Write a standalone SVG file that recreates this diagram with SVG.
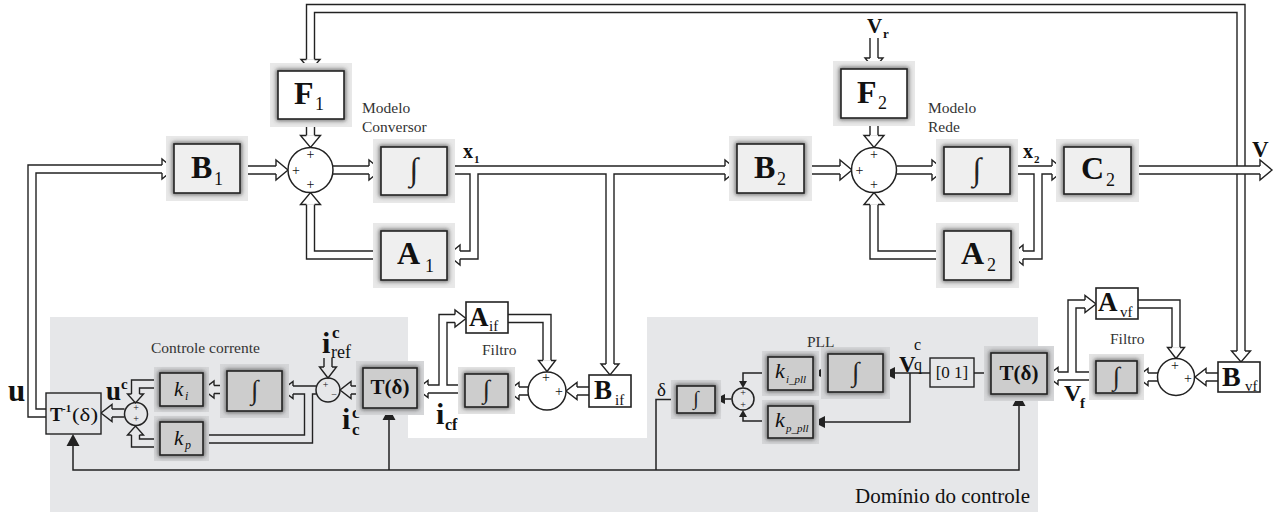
<svg xmlns="http://www.w3.org/2000/svg" width="1278" height="512" viewBox="0 0 1278 512">
<defs>
<filter id="blur" x="-30%" y="-30%" width="160%" height="160%"><feGaussianBlur stdDeviation="2"/></filter>
<style>
text{font-family:"Liberation Serif","Times New Roman",serif;fill:#111}
.b{font-weight:bold}
.it{font-style:italic}
.sm{fill:#333;font-size:15.5px}
.pl{font-size:14px;text-anchor:middle}
.ps{font-size:10px;text-anchor:middle}
.int{text-anchor:middle;fill:#222}
.panel{fill:#e6e7e9}
.halo{fill:#e8e8e8}
.haloD{fill:#d5d6d8}
.haloW{fill:#e3e3e3}
.shd{fill:none;stroke:#444;stroke-width:3;filter:url(#blur)}
.bx{fill:#efefef;stroke:#222;stroke-width:1.6}
.bxW{fill:#fff;stroke:#222;stroke-width:1.6}
.bxG{fill:#cdcdcd;stroke:#222;stroke-width:1.6}
.bxP{fill:#e6e7e9;stroke:#222;stroke-width:1.4}
.sum{fill:#fff;stroke:#222;stroke-width:1.5}
.sumP{fill:none;stroke:#222;stroke-width:1.5}
.co{fill:none;stroke:#222;stroke-width:9.4;stroke-linejoin:miter}
.ci{fill:none;stroke:#fff;stroke-width:6.6;stroke-linejoin:miter}
.cip{fill:none;stroke:#e6e7e9;stroke-width:6.6;stroke-linejoin:miter}
.hd{fill:#fff;stroke:#222;stroke-width:1.4;stroke-linejoin:miter}
.hdp{fill:#e6e7e9;stroke:#222;stroke-width:1.4;stroke-linejoin:miter}
.sl{fill:none;stroke:#222;stroke-width:1.5}
.sh{fill:#222}
</style>
</defs>
<rect width="1278" height="512" fill="#fff"/>
<path id="panel" class="panel" d="M50,317 H408 V438 H647 V317 H1038 V512 H50 Z"/>

<g id="connectors">
 <g id="top-double">
  <path class="co" d="M310.5,59.5 V8.5 H1241 V351 M46,413 H32 V169 H162 M240,170 H276 M310.5,119 V135.5 M333,170 H369 M381,255 H310.5 V204.5 M447,170 H725 M474,170 V255 H460 M610,170 V364 M804,170 H840 M874,38 V58 M874,118 V135.5 M896.5,170 H932 M944,255 H874 V204.5 M1010,170 H1052 M1038,170 V255 H1023"/>
  <path class="ci" d="M310.5,59.5 V8.5 H1241 V351 M46,413 H32 V169 H162 M240,170 H276 M310.5,119 V135.5 M333,170 H369 M381,255 H310.5 V204.5 M447,170 H725 M474,170 V255 H460 M610,170 V364 M804,170 H840 M874,38 V58 M874,118 V135.5 M896.5,170 H932 M944,255 H874 V204.5 M1010,170 H1052 M1038,170 V255 H1023"/>
  <path class="co" d="M1131,170 H1260"/>
  <path class="ci" d="M1131,170 H1260"/>
  <path class="hd" d="M306.5,59.5 H301 L310.5,70.5 L320,59.5 H314.5"/>
  <path class="hd" d="M1237,351 H1231.5 L1241,362 L1250.5,351 H1245"/>
  <path class="hd" d="M162,165 V159 L174,169 L162,179 V173"/>
  <path class="hd" d="M276,166 V160 L288,170 L276,180 V174"/>
  <path class="hd" d="M306.5,135.5 H300.5 L310.5,147.5 L320.5,135.5 H314.5"/>
  <path class="hd" d="M369,166 V160 L381,170 L369,180 V174"/>
  <path class="hd" d="M306.5,204.5 H300.5 L310.5,192.5 L320.5,204.5 H314.5"/>
  <path class="hd" d="M725,166 V160 L737,170 L725,180 V174"/>
  <path class="hd" d="M460,251 V245 L448,255 L460,265 V259"/>
  <path class="hd" d="M606,364 H601 L610,375 L619,364 H614"/>
  <path class="hd" d="M840,166 V160 L852,170 L840,180 V174"/>
  <path class="hd" d="M870,58 H865 L874,69 L883,58 H878"/>
  <path class="hd" d="M870,135.5 H864 L874,147.5 L884,135.5 H878"/>
  <path class="hd" d="M932,166 V160 L944,170 L932,180 V174"/>
  <path class="hd" d="M870,204.5 H864 L874,192.5 L884,204.5 H878"/>
  <path class="hd" d="M1052,166 V160 L1064,170 L1052,180 V174"/>
  <path class="hd" d="M1023,251 V245 L1011,255 L1023,265 V259"/>
  <path class="hd" d="M1260,166 V160 L1272,170 L1260,180 V174"/>
 </g>
 <g id="filter-double">
  <path class="co" d="M465,389 H428 M443,389 V318.5 H455 M508,318.5 H547 V360.5 M589,391 H577 M528,391 H519 M1218,377 H1206 M1158,377 H1148 M1096,376 H1058 M1072,376 V304 H1085 M1138,304 H1176 V347.5"/>
  <path class="ci" d="M465,389 H428 M443,389 V318.5 H455 M508,318.5 H547 V360.5 M589,391 H577 M528,391 H519 M1218,377 H1206 M1158,377 H1148 M1096,376 H1058 M1072,376 V304 H1085 M1138,304 H1176 V347.5"/>
  <path class="hd" d="M428,385 V380.5 L417,389 L428,397.5 V393"/>
  <path class="hd" d="M455,314.5 V310 L466,318.5 L455,327 V322.5"/>
  <path class="hd" d="M543,360.5 H538.5 L547,371.5 L555.5,360.5 H551"/>
  <path class="hd" d="M577,387 V382.5 L566,391 L577,399.5 V395"/>
  <path class="hd" d="M519,387 V382.5 L508,391 L519,399.5 V395"/>
  <path class="hd" d="M1206,373 V368.5 L1195,377 L1206,385.5 V381"/>
  <path class="hd" d="M1148,373 V368.5 L1137,377 L1148,385.5 V381"/>
  <path class="hd" d="M1058,372 V367.5 L1047,376 L1058,384.5 V380"/>
  <path class="hd" d="M1085,300 V295.5 L1096,304 L1085,312.5 V308"/>
  <path class="hd" d="M1172,347.5 H1167.5 L1176,358.5 L1184.5,347.5 H1180"/>
 </g>
 <g id="control-double">
  <path class="co" d="M124.5,413 H112 M160,384 H135.5 V394 M160,443 H135.5 V435 M227,389.5 H214 M316,390 H293 M308.5,390 V439 H203 M363,390 H351 M328,358 V367"/>
  <path class="cip" d="M124.5,413 H112 M160,384 H135.5 V394 M160,443 H135.5 V435 M227,389.5 H214 M316,390 H293 M308.5,390 V439 H203 M363,390 H351 M328,358 V367"/>
  <path class="hdp" d="M112,409 V404.5 L101,413 L112,421.5 V417"/>
  <path class="hdp" d="M131.5,394 H127.5 L135.5,403 L143.5,394 H139.5"/>
  <path class="hdp" d="M131.5,435 H127.5 L135.5,426 L143.5,435 H139.5"/>
  <path class="hdp" d="M214,385.5 V381 L203,389.5 L214,398 V393.5"/>
  <path class="hdp" d="M293,386 V381.5 L282,390 L293,398.5 V394"/>
  <path class="hdp" d="M351,386 V381.5 L340,390 L351,398.5 V394"/>
  <path class="hdp" d="M324,367 H319.5 L328,378 L336.5,367 H332"/>
 </g>
 <g id="signal-lines">
  <path class="sl" d="M73,446 V470 H1019 V406 M389,470 V420 M677,399.5 H656 V470 M731.5,399 H725 M828,373 H823 M930,373 H895 M991,373 H974 M910,373 V422 H825 M768,373 H743 V381 M768,421 H743 V417"/>
  <path class="sh" d="M66.5,446 L73,434 L79.5,446 Z M382.5,420 L389,408 L395.5,420 Z M1012.5,406 L1019,394 L1025.5,406 Z M725,394 L715,399 L725,404 Z M823,368 L813,373 L823,378 Z M895,367 L883,373 L895,379 Z M825,416 L813,422 L825,428 Z M739,381 L743,388 L747,381 Z M739,417 L743,410 L747,417 Z"/>
 </g>
</g>

<!-- Top model blocks -->
<g id="B1"><rect class="halo" x="166" y="136" width="82" height="65"/><rect class="shd" x="174" y="144" width="66" height="49"/><rect class="bx" x="174" y="144" width="66" height="49"/><text class="b" x="191" y="178" font-size="32">B</text><text x="214" y="185" font-size="18">1</text></g>
<g id="F1"><rect class="halo" x="270" y="63" width="82" height="64"/><rect class="shd" x="278" y="71" width="66" height="48"/><rect class="bxW" x="278" y="71" width="66" height="48"/><text class="b" x="294" y="104" font-size="32">F</text><text x="315" y="110" font-size="18">1</text></g>
<g id="sum1"><circle class="sum" cx="310.5" cy="170" r="22.5"/><text class="pl" x="310.5" y="159">+</text><text class="pl" x="296" y="174.5">+</text><text class="pl" x="310.5" y="189">+</text></g>
<g id="Int1"><rect class="halo" x="373" y="139" width="82" height="64"/><rect class="shd" x="381" y="147" width="66" height="48"/><rect class="bx" x="381" y="147" width="66" height="48"/><text class="int" x="414" y="180" font-size="32">∫</text></g>
<g id="A1"><rect class="halo" x="373" y="223" width="82" height="65"/><rect class="shd" x="381" y="231" width="66" height="49"/><rect class="bx" x="381" y="231" width="66" height="49"/><text class="b" x="397" y="264" font-size="32">A</text><text x="425" y="272" font-size="18">1</text></g>
<g id="lbl-conv"><text class="sm" x="362" y="113">Modelo</text><text class="sm" x="362" y="131.5">Conversor</text></g>
<g id="lbl-x1"><text class="b" x="463" y="158" font-size="20">x</text><text class="b" x="474" y="163" font-size="11">1</text></g>
<g id="B2"><rect class="halo" x="729" y="136" width="83" height="65"/><rect class="shd" x="737" y="144" width="67" height="49"/><rect class="bx" x="737" y="144" width="67" height="49"/><text class="b" x="754" y="178" font-size="32">B</text><text x="777" y="185" font-size="18">2</text></g>
<g id="F2"><rect class="halo" x="833" y="61" width="82" height="65"/><rect class="shd" x="841" y="69" width="66" height="49"/><rect class="bxW" x="841" y="69" width="66" height="49"/><text class="b" x="857" y="103" font-size="32">F</text><text x="878" y="109" font-size="18">2</text></g>
<g id="lbl-vr"><text class="b" x="867" y="33" font-size="21">V</text><text class="b" x="883" y="38" font-size="13">r</text></g>
<g id="sum2"><circle class="sum" cx="874" cy="170" r="22.5"/><text class="pl" x="874" y="159">+</text><text class="pl" x="859.5" y="174.5">+</text><text class="pl" x="874" y="189">+</text></g>
<g id="lbl-rede"><text class="sm" x="928" y="113">Modelo</text><text class="sm" x="928" y="131.5">Rede</text></g>
<g id="Int2"><rect class="halo" x="936" y="139" width="82" height="63"/><rect class="shd" x="944" y="147" width="66" height="47"/><rect class="bx" x="944" y="147" width="66" height="47"/><text class="int" x="977" y="179.5" font-size="32">∫</text></g>
<g id="A2"><rect class="halo" x="936" y="223" width="83" height="65"/><rect class="shd" x="944" y="231" width="67" height="49"/><rect class="bx" x="944" y="231" width="67" height="49"/><text class="b" x="961" y="264" font-size="32">A</text><text x="987" y="271" font-size="18">2</text></g>
<g id="lbl-x2"><text class="b" x="1023" y="158" font-size="20">x</text><text class="b" x="1034" y="163" font-size="11">2</text></g>
<g id="C2"><rect class="halo" x="1056" y="139" width="83" height="63"/><rect class="shd" x="1064" y="147" width="67" height="47"/><rect class="bx" x="1064" y="147" width="67" height="47"/><text class="b" x="1081" y="179" font-size="32">C</text><text x="1106" y="186" font-size="18">2</text></g>
<g id="lbl-v"><text class="b" x="1252" y="157" font-size="23">V</text></g>

<!-- Current control -->
<g id="lbl-u"><text class="b" x="8" y="401" font-size="31">u</text></g>
<g id="Tinv"><rect class="bxP" x="46" y="393" width="55" height="41"/><text class="b" x="50" y="421" font-size="19">T</text><text class="b" x="62" y="412" font-size="11">-1</text><text x="72" y="421" font-size="19" textLength="26" lengthAdjust="spacingAndGlyphs">(δ)</text></g>
<g id="lbl-uc"><text class="b" x="106" y="400" font-size="27">u</text><text class="b" x="121" y="389" font-size="15">c</text></g>
<g id="sum-uc"><circle class="sumP" cx="136" cy="414" r="11.5"/><text class="ps" x="136" y="410.5">+</text><text class="ps" x="136" y="422">+</text></g>
<g id="lbl-cc"><text class="sm" x="151" y="353" font-size="16">Controle corrente</text></g>
<g id="ki"><rect class="haloD" x="154" y="367" width="55" height="45"/><rect class="shd" x="160" y="373" width="43" height="33"/><rect class="bxG" x="160" y="373" width="43" height="33"/><text class="it" x="174" y="396" font-size="21">k</text><text class="it" x="185" y="400" font-size="12">i</text></g>
<g id="kp"><rect class="haloD" x="154" y="416" width="55" height="45"/><rect class="shd" x="160" y="422" width="43" height="33"/><rect class="bxG" x="160" y="422" width="43" height="33"/><text class="it" x="174" y="445" font-size="21">k</text><text class="it" x="185" y="449" font-size="12">p</text></g>
<g id="IntC"><rect class="haloD" x="220" y="364" width="69" height="54"/><rect class="shd" x="227" y="371" width="55" height="40"/><rect class="bxG" x="227" y="371" width="55" height="40"/><text class="int" x="254.5" y="399" font-size="27">∫</text></g>
<g id="sum-ic"><circle class="sumP" cx="328" cy="390" r="12"/><text class="ps" x="325.5" y="388" font-size="11">+</text><text class="ps" x="334" y="398" font-size="12">−</text></g>
<g id="lbl-iref"><text class="b" x="322" y="353" font-size="30">i</text><text class="b" x="332" y="338" font-size="17">c</text><text x="331" y="358" font-size="18">ref</text></g>
<g id="lbl-icc"><text class="b" x="342" y="429" font-size="30">i</text><text class="b" x="352" y="418" font-size="17">c</text><text class="b" x="352" y="435" font-size="17">c</text></g>
<g id="TdL"><rect class="haloD" x="356" y="361" width="68" height="54"/><rect class="shd" x="363" y="368" width="54" height="40"/><rect class="bxG" x="363" y="368" width="54" height="40"/><text class="b" x="390" y="394" font-size="21" text-anchor="middle">T(δ)</text></g>

<!-- Converter filter -->
<g id="lbl-icf"><text class="b" x="436" y="424" font-size="30">i</text><text class="b" x="445" y="430" font-size="16">cf</text></g>
<g id="Aif"><rect class="bxW" x="466" y="302" width="42" height="31"/><text class="b" x="469" y="326" font-size="27">A</text><text x="489" y="331" font-size="15">if</text></g>
<g id="lbl-filtro1"><text class="sm" x="482" y="355">Filtro</text></g>
<g id="IntIf"><rect class="haloW" x="458" y="367" width="57" height="47"/><rect class="shd" x="465" y="374" width="43" height="33"/><rect class="bxG" x="465" y="374" width="43" height="33"/><text class="int" x="486.5" y="398" font-size="26">∫</text></g>
<g id="sum-if"><circle class="sum" cx="547" cy="391" r="19"/><text class="pl" x="546" y="382">+</text><text class="pl" x="559" y="396">+</text></g>
<g id="Bif"><rect class="bxW" x="589" y="375" width="42" height="32"/><text class="b" x="594" y="399" font-size="27">B</text><text x="615" y="405" font-size="15">if</text></g>

<!-- PLL -->
<g id="lbl-delta"><text x="657" y="396" font-size="19">δ</text></g>
<g id="IntD"><rect class="haloD" x="671" y="380" width="50" height="39"/><rect class="shd" x="677" y="386" width="38" height="27"/><rect class="bxG" x="677" y="386" width="38" height="27"/><text class="int" x="696" y="405" font-size="20">∫</text></g>
<g id="sum-pll"><circle class="sumP" cx="743" cy="399" r="11"/><text class="ps" x="743" y="396">+</text><text class="ps" x="743" y="407.5">+</text></g>
<g id="lbl-pll"><text class="sm" x="807" y="347">PLL</text></g>
<g id="kipll"><rect class="haloD" x="762" y="351" width="57" height="45"/><rect class="shd" x="768" y="357" width="45" height="33"/><rect class="bxG" x="768" y="357" width="45" height="33"/><text class="it" x="775" y="378" font-size="22">k</text><text class="it" x="786" y="383" font-size="11">i_pll</text></g>
<g id="kppll"><rect class="haloD" x="762" y="400" width="57" height="44"/><rect class="shd" x="768" y="406" width="45" height="32"/><rect class="bxG" x="768" y="406" width="45" height="32"/><text class="it" x="775" y="427" font-size="22">k</text><text class="it" x="786" y="432" font-size="11">p_pll</text></g>
<g id="IntPll"><rect class="haloD" x="821" y="347" width="69" height="52"/><rect class="shd" x="828" y="354" width="55" height="38"/><rect class="bxG" x="828" y="354" width="55" height="38"/><text class="int" x="855.5" y="381" font-size="27">∫</text></g>
<g id="lbl-vq"><text class="b" x="899" y="372" font-size="23">V</text><text x="914" y="350" font-size="16">c</text><text x="914" y="370" font-size="16">q</text></g>
<g id="sel01"><rect class="bxP" x="930" y="358" width="44" height="29"/><text x="952" y="378" font-size="17" text-anchor="middle">[0 1]</text></g>
<g id="TdR"><rect class="haloD" x="984" y="346" width="70" height="55"/><rect class="shd" x="991" y="353" width="56" height="41"/><rect class="bxG" x="991" y="353" width="56" height="41"/><text class="b" x="1019" y="380" font-size="21" text-anchor="middle">T(δ)</text></g>
<g id="lbl-dominio"><text x="855" y="503" font-size="21" fill="#222">Domínio do controle</text></g>

<!-- Grid filter -->
<g id="Avf"><rect class="bxW" x="1096" y="288" width="42" height="31"/><text class="b" x="1098" y="311" font-size="27">A</text><text x="1120" y="317" font-size="15">vf</text></g>
<g id="lbl-filtro2"><text class="sm" x="1110" y="344">Filtro</text></g>
<g id="lbl-vf"><text class="b" x="1064" y="401" font-size="24">V</text><text class="b" x="1080" y="408" font-size="15">f</text></g>
<g id="IntVf"><rect class="haloW" x="1089" y="354" width="55" height="46"/><rect class="shd" x="1096" y="361" width="41" height="32"/><rect class="bxG" x="1096" y="361" width="41" height="32"/><text class="int" x="1116.5" y="385" font-size="26">∫</text></g>
<g id="sum-vf"><circle class="sum" cx="1176" cy="377" r="18.5"/><text class="pl" x="1175" y="370">+</text><text class="pl" x="1188" y="383">+</text></g>
<g id="Bvf"><rect class="bxW" x="1218" y="362" width="42" height="30"/><text class="b" x="1222" y="386" font-size="28">B</text><text x="1245" y="391" font-size="15">vf</text></g>
</svg>
